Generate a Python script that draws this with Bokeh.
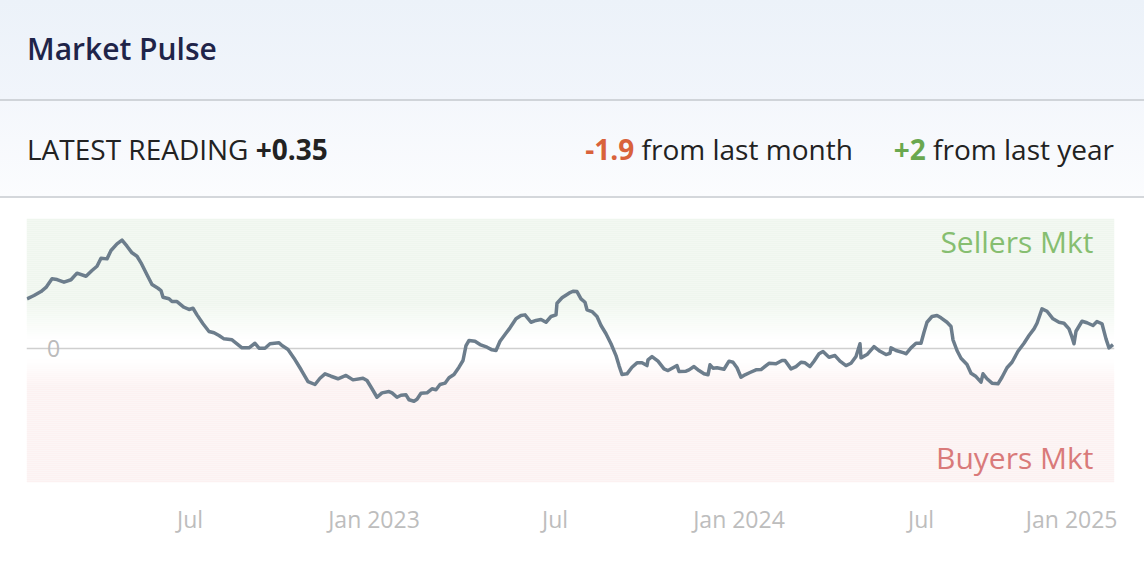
import numpy as np
import pandas as pd
from bokeh.plotting import figure
from bokeh.models import (Div, Range1d, Span, Label, FixedTicker,
                          GlobalInlineStyleSheet)
from bokeh.layouts import column
from bokeh.embed import file_html
from bokeh.resources import INLINE

# ---------------- data ----------------
EPOCH = "2022-01-01"   # day offsets below are days since this date
days = [
    18, 25, 32, 37, 43, 48, 55, 62, 68, 77, 83, 88, 92, 98, 102, 108, 113, 118, 123, 128,
    132, 138, 143, 149, 152, 154, 160, 163, 168, 175, 180, 184, 188, 194, 200,
    205, 210, 215, 223, 228, 233, 240, 246, 250, 256, 261, 270, 273, 279, 285,
    292, 299, 306, 311, 316, 322, 329, 337, 344, 354, 358, 363, 368, 373, 380,
    383, 388, 392, 397, 400, 405, 408, 412, 418, 423, 427, 431, 436, 440, 445,
    450, 454, 457, 460, 466, 471, 478, 483, 487, 491, 496, 501, 507, 512, 516,
    522, 527, 532, 537, 542, 547, 548, 553, 560,
    564, 568, 572, 576, 578, 583, 588, 592, 597, 602, 607, 610, 613, 618, 623,
    628, 633, 638, 639, 643, 649, 655, 659, 664, 668, 670, 677, 680, 685, 690,
    695, 699, 701, 704, 708, 715, 720, 724, 728, 732, 736, 741,
    747, 752, 760, 767, 773, 776, 782, 787, 792, 796, 801, 805, 810, 814, 820,
    826, 831, 837, 842, 847, 851, 852, 858, 865, 871, 877, 881, 882, 887, 895,
    897, 902, 907, 912,
    915, 918, 923, 928, 932, 938, 942, 944, 948, 952, 958, 962, 967, 972, 974,
    978, 983, 989, 993, 998, 1003, 1009, 1015, 1020, 1025, 1028, 1033, 1038, 1044, 1050,
    1055, 1060, 1063, 1065, 1067, 1073, 1078, 1084, 1088, 1093, 1097, 1100, 1104,
]
pulse = [
    4.52, 4.82, 5.18, 5.55, 6.34, 6.27, 6.03, 6.25, 6.85, 6.57, 7.09, 7.48, 8.21, 8.15, 8.91, 9.52, 9.85, 9.30, 8.70, 8.39,
    7.79, 6.70, 5.82, 5.48, 5.27, 4.66, 4.52, 4.27, 4.27, 3.75, 3.55, 3.66, 3.06, 2.25, 1.55,
    1.43, 1.18, 0.88, 0.79, 0.43, 0.06, 0.06, 0.48, 0.03, 0.03, 0.43, 0.52, 0.27, -0.09, -0.88,
    -1.91, -3.00, -3.27, -2.70, -2.30, -2.52, -2.75, -2.45, -2.85, -2.70, -2.91, -3.66, -4.43, -4.03, -3.91,
    -4.03, -4.43, -4.25, -4.21, -4.66, -4.79, -4.61, -4.06, -4.03, -3.66, -3.75, -3.27, -3.15, -2.66, -2.36,
    -1.70, -1.09, 0.27, 0.73, 0.66, 0.36, 0.12, -0.12, -0.18, 0.66, 1.27, 1.88, 2.70, 3.00, 3.06,
    2.39, 2.55, 2.64, 2.39, 2.91, 3.06, 4.12, 4.61, 5.03,
    5.21, 5.18, 4.52, 4.21, 3.52, 3.36, 2.91, 2.09, 1.34, 0.43, -0.64, -1.55, -2.36, -2.30, -1.70,
    -1.30, -1.30, -1.55, -1.03, -0.73, -1.15, -1.85, -2.00, -1.75, -1.55, -2.09, -2.06, -1.94, -1.64, -2.00,
    -2.30, -2.39, -1.48, -1.79, -1.75, -1.88, -1.15, -1.25, -1.75, -2.61, -2.39, -2.18,
    -1.94, -1.91, -1.34, -1.39, -1.09, -1.09, -1.85, -1.64, -1.25, -1.30, -1.64, -1.15, -0.48, -0.27, -0.79,
    -0.64, -1.15, -1.55, -1.34, -0.73, 0.43, -0.85, -0.55, 0.18, -0.25, -0.55, -0.43, 0.06, -0.18, -0.39,
    -0.48, 0.06, 0.48, 0.48,
    1.48, 2.39, 2.91, 3.00, 2.79, 2.39, 2.00, 0.79, -0.18, -0.88, -1.45, -2.25, -2.55, -3.06, -2.30,
    -2.75, -3.15, -3.21, -2.61, -1.75, -1.25, -0.25, 0.48, 1.18, 1.79, 2.30, 3.61, 3.39, 2.70, 2.39,
    2.30, 1.79, 1.03, 0.43, 1.57, 2.48, 2.34, 2.09, 2.45, 2.25, 0.88, 0.06, 0.35,
]
tick_dates = ["2022-07-01", "2023-01-01", "2023-07-01", "2024-01-01", "2024-07-01", "2025-01-01"]
tick_labels = ["Jul", "Jan 2023", "Jul", "Jan 2024", "Jul", "Jan 2025"]
title = "Market Pulse"
latest_reading = "+0.35"
month_change = "-1.9"
year_change = "+2"

# ---------------- layout constants ----------------
FONT = "Open Sans"
epoch = pd.Timestamp(EPOCH)
dates = epoch + pd.to_timedelta(days, unit="D")
DAY_MS = 86400000.0
x_start = (epoch + pd.Timedelta(days=17.5)).value / 1e6
x_end = (epoch + pd.Timedelta(days=1105.5)).value / 1e6
y_lo, y_hi = -12.18, 11.82

# ---------------- header (HTML) ----------------
header_html = f"""
<div style="width:1144px;font-family:'{FONT}',sans-serif;">
  <div style="box-sizing:border-box;height:101px;border-bottom:2px solid #d0d4d9;
       background:linear-gradient(180deg,#ecf2f9 0%,#f1f5fb 100%);
       display:flex;align-items:center;padding-left:27px;">
    <span style="font-size:30px;font-weight:600;color:#1f2449;">{title}</span>
  </div>
  <div style="box-sizing:border-box;height:97px;border-bottom:2px solid #d4d7db;
       background:linear-gradient(180deg,#f4f7fc 0%,#fbfcfe 100%);
       display:flex;align-items:center;justify-content:space-between;
       padding:0 30px 0 27px;font-size:28px;color:#222222;">
    <span>LATEST READING <b>{latest_reading}</b></span>
    <span><b style="color:#d9623b;">{month_change}</b> from last month<span style="display:inline-block;width:41px;"></span><b style="color:#6aa84f;">{year_change}</b> from last year</span>
  </div>
</div>
"""
header = Div(text=header_html, width=1144, height=198, margin=(0, 0, 0, 0))

# ---------------- chart ----------------
p = figure(width=1117, height=364, x_axis_type="datetime",
           x_range=Range1d(x_start, x_end), y_range=Range1d(y_lo, y_hi),
           y_axis_location=None, output_backend="svg", toolbar_location=None,
           min_border_left=26, min_border_right=3, min_border_top=20, min_border_bottom=80,
           margin=(0, 0, 0, 0))
p.outline_line_color = None
p.xgrid.visible = False
p.ygrid.visible = False
p.background_fill_color = "white"
p.border_fill_color = "white"


def lerp_hex(c1, c2, t):
    a = [int(c1[i:i + 2], 16) for i in (1, 3, 5)]
    b = [int(c2[i:i + 2], 16) for i in (1, 3, 5)]
    return "#" + "".join(f"{int(round(a[k] + (b[k] - a[k]) * t)):02x}" for k in range(3))


PINK, WHITE, GREEN = "#fcf1f1", "#ffffff", "#eff6ee"
stops = [(0.0, PINK), (0.36, PINK), (0.47, WHITE), (0.54, WHITE), (0.68, GREEN), (1.0, GREEN)]


def grad_color(t):
    for (t0, c0), (t1, c1) in zip(stops[:-1], stops[1:]):
        if t <= t1:
            return lerp_hex(c0, c1, (t - t0) / (t1 - t0) if t1 > t0 else 0)
    return stops[-1][1]


nb = 132
edges = np.linspace(y_lo, y_hi, nb + 1)
band_colors = [grad_color((i + 0.5) / nb) for i in range(nb)]
bg = p.quad(left=x_start, right=x_end, bottom=edges[:-1], top=edges[1:] + 0.01,
            fill_color=band_colors, line_color=None)
bg.level = "image"

zero = Span(location=0, dimension="width", line_color="#cfcfcf", line_width=1.5, level="underlay")
p.add_layout(zero)

p.line(dates, pulse, line_color="#6c7d8c", line_width=3.5, line_join="round")

p.add_layout(Label(x=x_start + 27 * DAY_MS, y=0, text="0", text_align="center",
                   text_baseline="middle", text_font=FONT, text_font_size="23px",
                   text_color="#bbbbbb"))
p.add_layout(Label(x=x_end - 21 * DAY_MS, y=9.73, text="Sellers Mkt", text_align="right",
                   text_baseline="middle", text_font=FONT, text_font_size="30px",
                   text_color="#86be70"))
p.add_layout(Label(x=x_end - 21 * DAY_MS, y=-9.91, text="Buyers Mkt", text_align="right",
                   text_baseline="middle", text_font=FONT, text_font_size="30px",
                   text_color="#d97a7a"))

tick_ms = [int(pd.Timestamp(d).value // 10**6) for d in tick_dates]
p.xaxis.ticker = FixedTicker(ticks=tick_ms)
p.xaxis.major_label_overrides = dict(zip(tick_ms, tick_labels))
p.xaxis.axis_line_color = None
p.xaxis.major_tick_line_color = None
p.xaxis.minor_tick_line_color = None
p.xaxis.major_label_text_font = FONT
p.xaxis.major_label_text_font_size = "23px"
p.xaxis.major_label_text_color = "#bdbdbd"
p.xaxis.major_label_standoff = 14

layout = column(header, p, spacing=0, margin=(0, 0, 0, 0),
                stylesheets=[GlobalInlineStyleSheet(css="html,body{margin:0;padding:0;background:#ffffff;}")])

open("out.html", "w").write(file_html(layout, INLINE))
